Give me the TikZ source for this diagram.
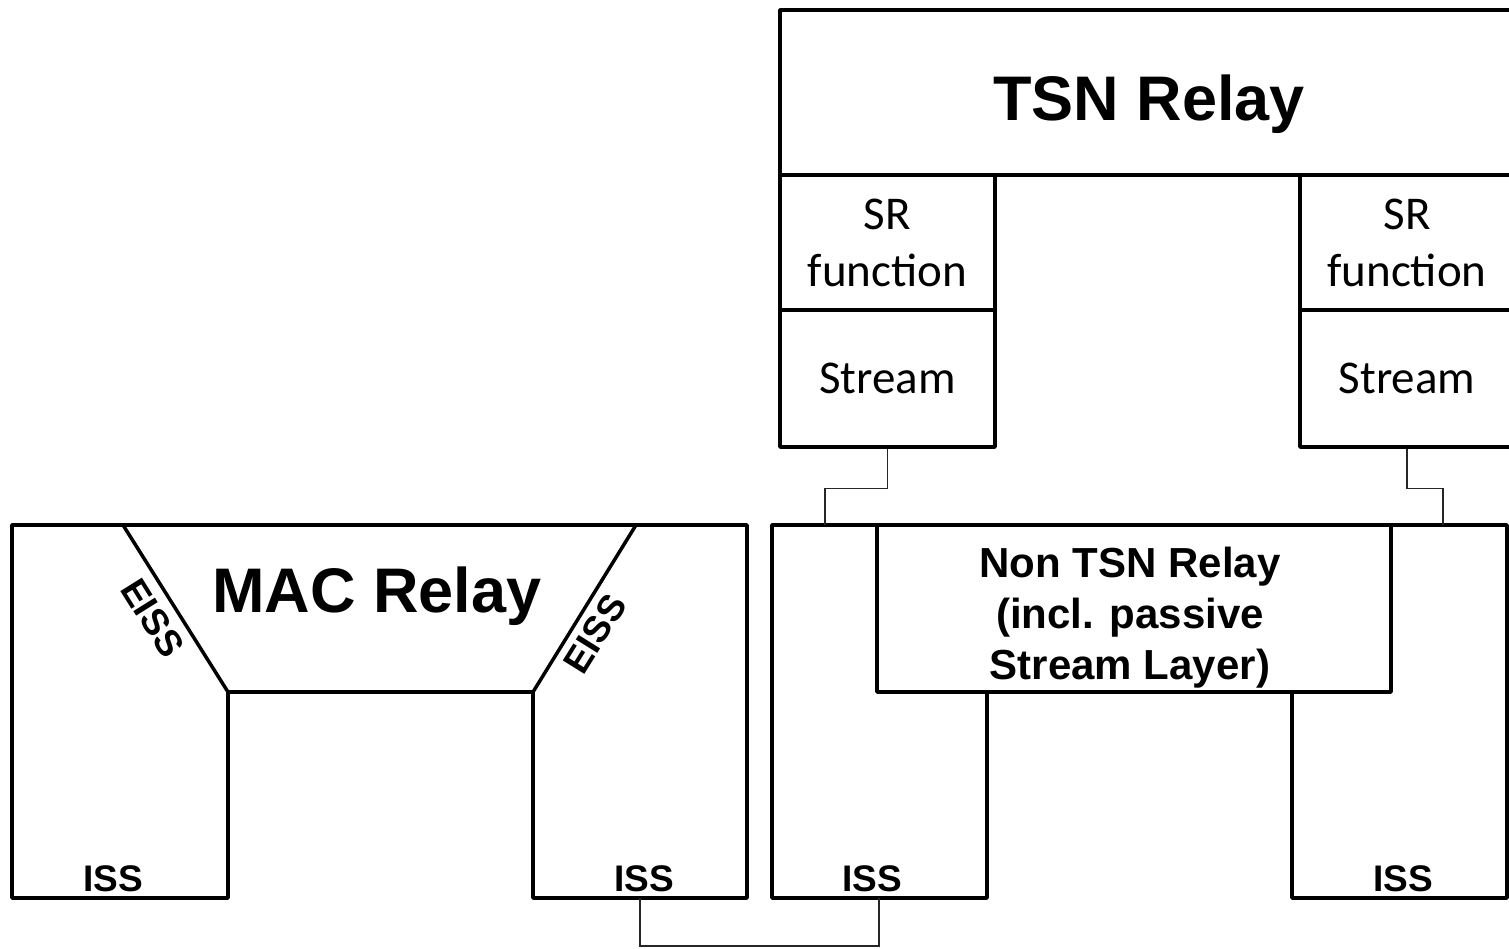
\documentclass[tikz,border=0pt]{standalone}
\usepackage{fontspec}
\newfontfamily\arialf{Liberation Sans}
\newfontfamily\calibrif{Carlito}
\begin{document}
\begin{tikzpicture}[x=1pt,y=-1pt,
  thickline/.style={line width=3.5pt, line join=round, line cap=round},
  blk/.style={draw, thickline, rectangle, inner sep=0pt},
  link/.style={line width=1.3pt, draw=black!85},
  titlef/.style={font=\arialf\bfseries\fontsize{63}{70}\selectfont},
  midf/.style={font=\arialf\bfseries\fontsize{42}{51}\selectfont, align=center},
  smallf/.style={font=\arialf\bfseries\fontsize{37}{42}\selectfont},
  calf/.style={font=\calibrif\fontsize{47}{57}\selectfont, align=center}
]
\useasboundingbox (0,0) rectangle (1509,948);
\clip (0,0) rectangle (1509,948);

% ---------- TSN Relay (upper part) ----------
\node[blk, minimum width=740pt, minimum height=165pt] (tsn) at (1150,92.5) {};
\node[titlef, anchor=base] (tsnlbl) at (1149,120) {TSN Relay};

\node[blk, calf, minimum width=215pt, minimum height=135pt] (srL) at (887.5,242.5) {SR\\function};
\node[blk, calf, minimum width=215pt, minimum height=137pt] (stL) at (887.5,378.5) {Stream};
\node[blk, calf, minimum width=214pt, minimum height=135pt] (srR) at (1407,242.5) {SR\\function};
\node[blk, calf, minimum width=214pt, minimum height=137pt] (stR) at (1407,378.5) {Stream};

% ---------- MAC Relay ----------
\coordinate (macTL) at (12,525);
\coordinate (macTR) at (747,525);
\coordinate (macBR) at (747,898);
\coordinate (macBR2) at (533,898);
\coordinate (macIR) at (533,692);
\coordinate (macIL) at (228,692);
\coordinate (macBL2) at (228,898);
\coordinate (macBL) at (12,898);
\coordinate (macSL) at (123,525);
\coordinate (macSR) at (636,525);
\draw[thickline] (macTL) -- (macTR) -- (macBR) -- (macBR2) -- (macIR)
  -- (macIL) -- (macBL2) -- (macBL) -- cycle;
\draw[thickline] (macSL) -- (macIL);
\draw[thickline] (macSR) -- (macIR);
\node[titlef, anchor=base] (maclbl) at (377,612) {MAC Relay};
\node[smallf, rotate=-58] (eissL) at (153,618) {EISS};
\node[smallf, rotate=58] (eissR) at (595,634) {EISS};
\node[smallf, anchor=base] (issA) at (113,891) {ISS};
\node[smallf, anchor=base] (issB) at (644,891) {ISS};

% ---------- Non TSN Relay ----------
\coordinate (ntTL) at (772,525);
\coordinate (ntTR) at (1507,525);
\coordinate (ntBR) at (1507,898);
\coordinate (ntBR2) at (1292,898);
\coordinate (ntIR) at (1292,692);
\coordinate (ntIL) at (987,692);
\coordinate (ntBL2) at (987,898);
\coordinate (ntBL) at (772,898);
\draw[thickline] (ntTL) -- (ntTR) -- (ntBR) -- (ntBR2) -- (ntIR)
  -- (ntIL) -- (ntBL2) -- (ntBL) -- cycle;
\node[blk, minimum width=514pt, minimum height=167pt] (ntr) at (1134,608.5) {};
\node[midf] (ntrlbl) at (1130,617.5) {Non TSN Relay\\(incl. passive\\Stream Layer)};
\node[smallf, anchor=base] (issC) at (872,891) {ISS};
\node[smallf, anchor=base] (issD) at (1403,891) {ISS};

% ---------- connections ----------
\coordinate (ntTopL) at (825,525);
\coordinate (ntTopR) at (1443,525);
\coordinate (macPort) at (640,898);
\coordinate (ntPort) at (879,898);
\draw[link] (stL.south) -- ++(0,40) -| (ntTopL);
\draw[link] (stR.south) -- ++(0,40) -| (ntTopR);
\draw[link] (macPort) -- ++(0,48) -| (ntPort);
\end{tikzpicture}
\end{document}
